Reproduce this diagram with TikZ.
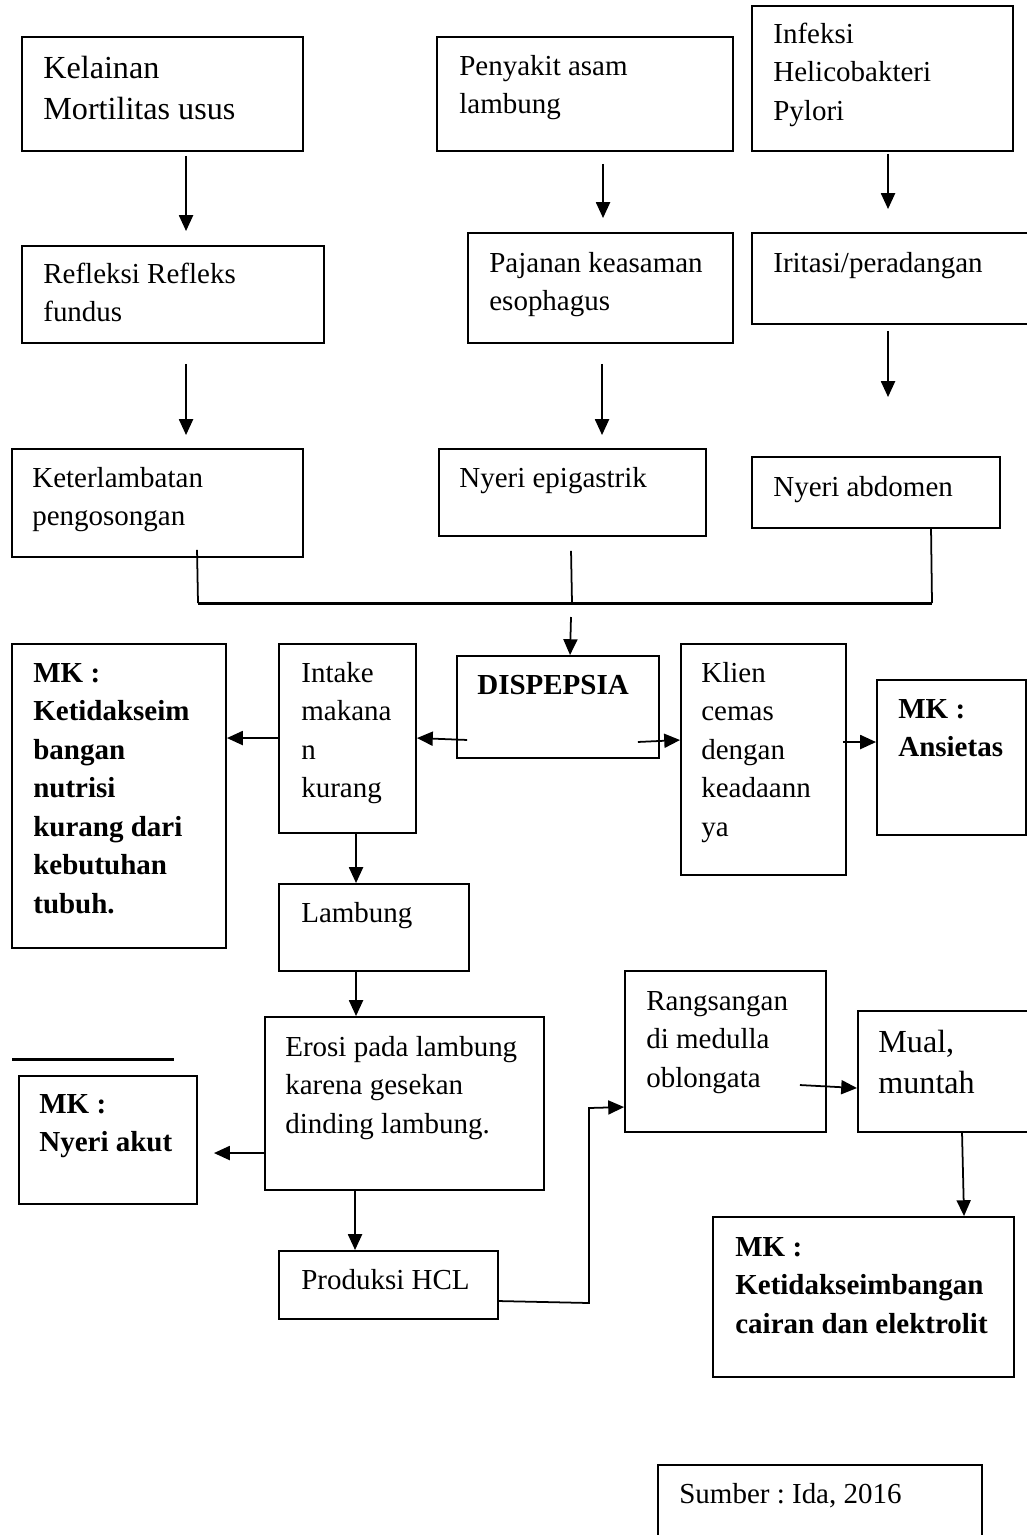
\documentclass[tikz,border=0pt]{standalone}
\usepackage{fontspec}
\setmainfont{Liberation Serif}
\usetikzlibrary{fit,calc,arrows.meta}
\newcommand\mystrut{\rule{0pt}{13pt}}
\frenchspacing
\begin{document}
\begin{tikzpicture}[x=0.02cm,y=-0.02cm,
  bx/.style={draw, line width=1.1pt, inner sep=0pt},
  txt/.style={anchor=north west, yshift=13pt, inner sep=0pt, align=left, font=\fontsize{16.5}{21.9}\selectfont\frenchspacing},
  bigtxt/.style={txt, font=\fontsize{18.3}{23.3}\selectfont\frenchspacing},
  boldtxt/.style={txt, font=\fontsize{16.5}{21.9}\selectfont\bfseries\frenchspacing},
  arr/.style={line width=1pt, -{Triangle[length=9pt,width=8pt]}},
  ln/.style={line width=1pt},
  busline/.style={line width=1.7pt}]
\useasboundingbox (0,0) rectangle (1027,1535);
\fill[white] (0,0) rectangle (1027,1535);
\clip (0,0) rectangle (1027,1535);

% boxes
\node[bx, fit={(22,37) (303,151)}] (kel) {};
\node[bx, fit={(437,37) (733,151)}] (pen) {};
\node[bx, fit={(752,6) (1013,151)}] (inf) {};
\node[bx, fit={(22,246) (324,343)}] (ref) {};
\node[bx, fit={(468,233) (733,343)}] (paj) {};
\node[bx, fit={(752,233) (1045,324)}] (iri) {};
\node[bx, fit={(12,449) (303,557)}] (ket) {};
\node[bx, fit={(439,449) (706,536)}] (epi) {};
\node[bx, fit={(752,457) (1000,528)}] (abd) {};
\node[bx, fit={(457,656) (659,758)}] (dis) {};
\node[bx, fit={(279,644) (416,833)}] (int) {};
\node[bx, fit={(12,644) (226,948)}] (mk1) {};
\node[bx, fit={(681,644) (846,875)}] (kli) {};
\node[bx, fit={(877,680) (1026,835)}] (ans) {};
\node[bx, fit={(279,884) (469,971)}] (lam) {};
\node[bx, fit={(265,1017) (544,1190)}] (ero) {};
\node[bx, fit={(19,1076) (197,1204)}] (akut) {};
\node[bx, fit={(279,1251) (498,1319)}] (hcl) {};
\node[bx, fit={(625,971) (826,1132)}] (ran) {};
\node[bx, fit={(858,1011) (1045,1132)}] (mua) {};
\node[bx, fit={(713,1217) (1014,1377)}] (mk3) {};
\node[bx, fit={(658,1465) (982,1550)}] (sum) {};

% texts
\node[bigtxt] (tkel) at (43,78) {\mystrut Kelainan\\Mortilitas usus};
\node[txt] (tpen) at (459,75) {\mystrut Penyakit asam\\lambung};
\node[txt] (tinf) at (773,43) {\mystrut Infeksi\\Helicobakteri\\Pylori};
\node[txt] (tref) at (43,283) {\mystrut Refleksi Refleks\\fundus};
\node[txt] (tpaj) at (489,272) {\mystrut Pajanan keasaman\\esophagus};
\node[txt] (tiri) at (773,272) {\mystrut Iritasi/peradangan};
\node[txt] (tket) at (32,487) {\mystrut Keterlambatan\\pengosongan};
\node[txt] (tepi) at (459,487) {\mystrut Nyeri epigastrik};
\node[txt] (tabd) at (773,496) {\mystrut Nyeri abdomen};
\node[boldtxt] (tdis) at (477,694) {\mystrut DISPEPSIA};
\node[txt] (tint) at (301,682) {\mystrut Intake\\makana\\n\\kurang};
\node[boldtxt] (tmk1) at (33,682) {\mystrut MK :\\Ketidakseim\\bangan\\nutrisi\\kurang dari\\kebutuhan\\tubuh.};
\node[txt] (tkli) at (701,682) {\mystrut Klien\\cemas\\dengan\\keadaann\\ya};
\node[boldtxt] (tans) at (898,718) {\mystrut MK :\\Ansietas};
\node[txt] (tlam) at (301,922) {\mystrut Lambung};
\node[txt] (tero) at (285,1056) {\mystrut Erosi pada lambung\\karena gesekan\\dinding lambung.};
\node[boldtxt] (takut) at (39,1113) {\mystrut MK :\\Nyeri akut};
\node[txt] (thcl) at (301,1289) {\mystrut Produksi HCL};
\node[txt] (tran) at (646,1010) {\mystrut Rangsangan\\di medulla\\oblongata};
\node[bigtxt] (tmua) at (878,1052) {\mystrut Mual,\\muntah};
\node[boldtxt] (tmk3) at (735,1256) {\mystrut MK :\\Ketidakseimbangan\\cairan dan elektrolit};
\node[txt] (tsum) at (679,1503) {\mystrut Sumber : Ida, 2016};

% bus coordinates
\coordinate (busL) at (198,603);
\coordinate (busM) at (572,603);
\coordinate (busR) at (932,603);
\coordinate (k1) at (589,1303);
\coordinate (k2) at (589,1108);

% connectors
\draw[arr] ($(kel.south west)+(165,4)$) -- ($(ref.north west)+(165,-14)$);
\draw[arr] ($(ref.south west)+(165,20)$) -- ($(ket.north west)+(175,-13)$);
\draw[arr] ($(pen.south west)+(167,12)$) -- ($(paj.north west)+(136,-14)$);
\draw[arr] ($(paj.south west)+(135,20)$) -- ($(epi.north west)+(164,-13)$);
\draw[arr] ($(inf.south west)+(137,2)$) -- ($(iri.north west)+(137,-23)$);
\draw[arr] ($(iri.south west)+(137,6)$) -- ($(abd.north west)+(137,-59)$);

\draw[ln] ($(ket.south west)+(186,-8)$) -- (busL);
\draw[ln] ($(epi.south west)+(133,14)$) -- (busM);
\draw[ln] ($(abd.south west)+(180,0)$) -- (busR);
\draw[busline] (busL) -- (busR);

\draw[arr] ($(busM)+(-1,14)$) -- ($(dis.north west)+(114,0)$);
\draw[arr] ($(dis.south west)+(11,-19)$) -- ($(int.north east)+(0,95)$);
\draw[arr] ($(dis.south east)+(-22,-17)$) -- ($(kli.north west)+(0,97)$);
\draw[arr] ($(int.north west)+(0,95)$) -- ($(mk1.north east)+(0,95)$);
\draw[arr] ($(kli.north east)+(-4,99)$) -- ($(ans.north west)+(0,63)$);
\draw[arr] ($(int.south west)+(78,0)$) -- ($(lam.north west)+(78,0)$);
\draw[arr] ($(lam.south west)+(78,0)$) -- ($(ero.north west)+(92,0)$);
\draw[arr] ($(ero.north west)+(0,137)$) -- ($(akut.north east)+(16,78)$);
\draw[arr] ($(ero.south west)+(91,0)$) -- ($(hcl.north west)+(77,0)$);
\draw[arr] ($(hcl.north east)+(0,51)$) -- (k1) -- (k2) -- ($(ran.north west)+(0,137)$);
\draw[arr] ($(ran.north east)+(-27,115)$) -- ($(mua.north west)+(0,78)$);
\draw[arr] ($(mua.south west)+(105,0)$) -- ($(mk3.north west)+(252,0)$);

% stray rule
\draw[line width=1.7pt] (12,1059) -- (174,1059);
\end{tikzpicture}
\end{document}
